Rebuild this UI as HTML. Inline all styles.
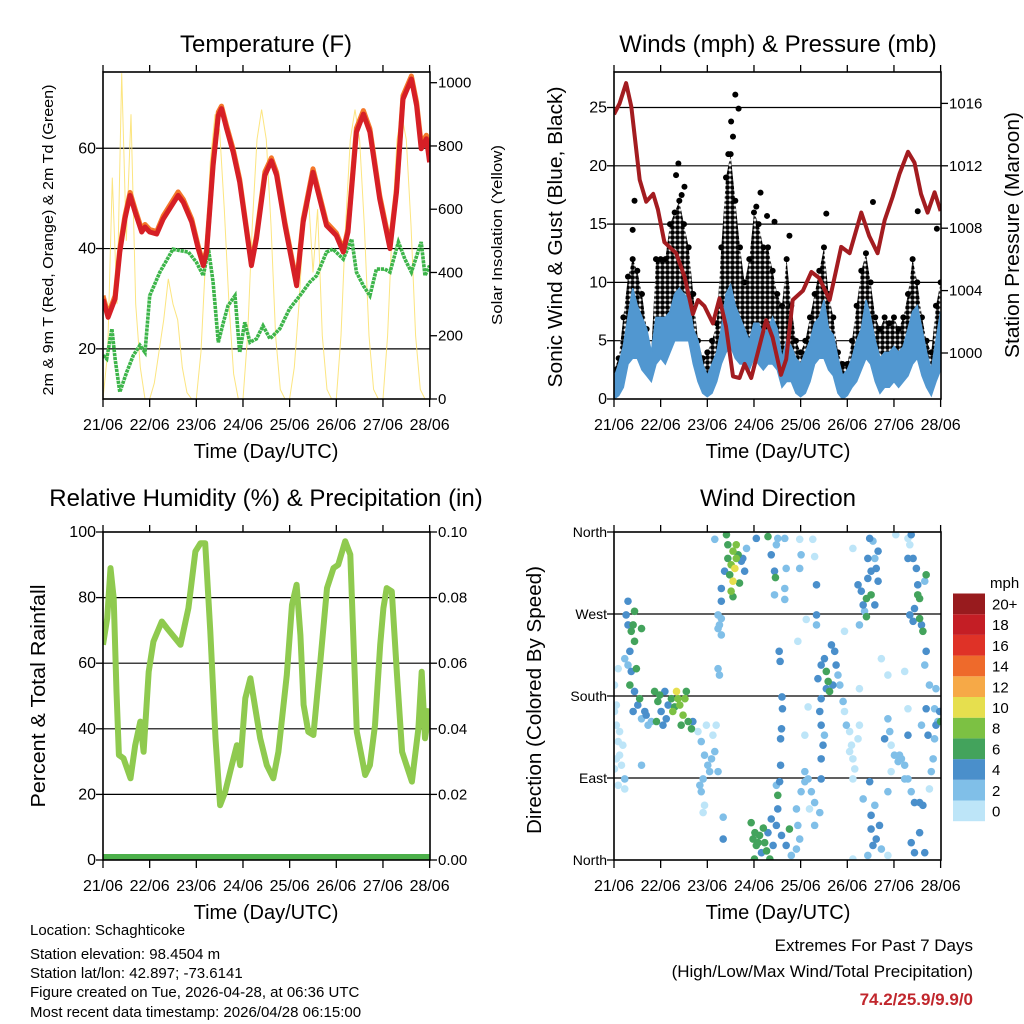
<!DOCTYPE html>
<html><head><meta charset="utf-8"><style>
body{margin:0;background:#fff}
svg{display:block;font-family:"Liberation Sans",sans-serif}
</style></head><body>
<svg id="c" width="1024" height="1024" viewBox="0 0 1024 1024" xmlns="http://www.w3.org/2000/svg">
<defs>
<pattern id="dotpat" width="5" height="5" patternUnits="userSpaceOnUse"><rect width="5" height="5" fill="#fff"/><circle cx="2.5" cy="2.5" r="2.4" fill="#000"/></pattern>
</defs>
<rect width="1024" height="1024" fill="#fff"/>
<g font-size="24" text-anchor="middle">
<text x="266" y="52">Temperature (F)</text>
<text x="778" y="52">Winds (mph) &amp; Pressure (mb)</text>
<text x="266" y="506">Relative Humidity (%) &amp; Precipitation (in)</text>
<text x="778" y="506">Wind Direction</text>
</g>
<g font-size="20" text-anchor="middle">
<text x="266" y="458">Time (Day/UTC)</text>
<text x="778" y="458">Time (Day/UTC)</text>
<text x="266" y="919">Time (Day/UTC)</text>
<text x="778" y="919">Time (Day/UTC)</text>
</g>
<text transform="translate(53,240) rotate(-90)" font-size="15" text-anchor="middle" textLength="311" lengthAdjust="spacingAndGlyphs">2m &amp; 9m T (Red, Orange) &amp; 2m Td (Green)</text>
<text transform="translate(502,235) rotate(-90)" font-size="15" text-anchor="middle" textLength="180" lengthAdjust="spacingAndGlyphs">Solar Insolation (Yellow)</text>
<text transform="translate(562,237) rotate(-90)" font-size="20" text-anchor="middle" textLength="301" lengthAdjust="spacingAndGlyphs">Sonic Wind &amp; Gust (Blue, Black)</text>
<text transform="translate(1019,235) rotate(-90)" font-size="20" text-anchor="middle" textLength="246" lengthAdjust="spacingAndGlyphs">Station Pressure (Maroon)</text>
<text transform="translate(45,696) rotate(-90)" font-size="20" text-anchor="middle" textLength="223" lengthAdjust="spacingAndGlyphs">Percent &amp; Total Rainfall</text>
<text transform="translate(541,700) rotate(-90)" font-size="20" text-anchor="middle" textLength="268" lengthAdjust="spacingAndGlyphs">Direction (Colored By Speed)</text>
<g font-size="15">
<text x="30" y="935">Location: Schaghticoke</text>
<text x="30" y="959">Station elevation: 98.4504 m</text>
<text x="30" y="978">Station lat/lon: 42.897; -73.6141</text>
<text x="30" y="997">Figure created on Tue, 2026-04-28, at 06:36 UTC</text>
<text x="30" y="1017">Most recent data timestamp: 2026/04/28 06:15:00</text>
</g>
<g font-size="17" text-anchor="end">
<text x="973" y="951">Extremes For Past 7 Days</text>
<text x="973" y="977">(High/Low/Max Wind/Total Precipitation)</text>
<text x="973" y="1005" font-weight="bold" fill="#c1272d">74.2/25.9/9.9/0</text>
</g>
<g id="marks"></g>
</svg>
<script>
// ---------- data ----------
const dayLabels=["21/06","22/06","23/06","24/06","25/06","26/06","27/06","28/06"];
const tempTicks=[20,40,60];
const solarTicks=[0,200,400,600,800,1000];
const windTicks=[0,5,10,15,20,25];
const presTicks=[1000,1004,1008,1012,1016];
const rhTicks=[0,20,40,60,80,100];
const rainTicks=["0.00","0.02","0.04","0.06","0.08","0.10"];
const dirTicks=["North","East","South","West","North"];
const speedBins=["0","2","4","6","8","10","12","14","16","18","20+"];
const speedColors=["#bde5f8","#80bfe8","#4a8fcb","#43a35c","#7cc143","#e6df4e","#f6a947","#ee6a2b","#df3227","#c41e25","#981b1e"];

const tempDays=[0,0.11,0.26,0.36,0.47,0.58,0.69,0.83,0.9,1.0,1.15,1.29,1.61,1.72,1.9,2.04,2.15,2.22,2.36,2.47,2.54,2.65,2.79,2.93,3.08,3.18,3.29,3.47,3.61,3.72,3.9,4.15,4.29,4.5,4.61,4.79,5.0,5.15,5.25,5.43,5.58,5.72,5.93,6.15,6.29,6.43,6.61,6.72,6.82,6.93,7.0];
const temp2m=[29.9,26.3,30,39.3,45.9,50.6,47.2,43.3,44.3,43.3,42.9,45.9,50.6,49.2,45.3,40,36.6,39.3,56.5,66.5,67.9,63.9,59.2,53.2,43.3,36.6,42,54.6,57.5,54.6,44.6,32.6,45.3,55.2,51.2,44.6,42.6,39.3,43.3,63.2,66.8,63.2,49.9,40,51.2,69.8,73.8,68.5,59.9,61.9,57.2];
const temp9m=[30.6,26.8,30.6,40,46.5,51.2,47.8,43.8,44.8,43.8,43.4,46.5,51.3,49.8,45.9,40.5,37,39.8,57.3,67.2,68.4,64.5,59.8,53.8,43.8,37,42.6,55.3,58.1,55.2,45.2,33.2,45.9,55.9,51.8,45.2,43.1,39.8,43.9,64,67.5,63.9,50.6,40.6,51.9,70.5,74.4,69.2,60.9,62.6,58.6];
const dpDays=[0,0.08,0.19,0.26,0.36,0.51,0.65,0.79,0.9,1.0,1.22,1.5,1.65,1.83,2.0,2.15,2.26,2.36,2.47,2.58,2.68,2.83,2.93,3.04,3.15,3.29,3.43,3.58,3.79,4.0,4.22,4.43,4.58,4.79,4.93,5.15,5.33,5.43,5.58,5.72,5.86,6.04,6.15,6.33,6.47,6.61,6.82,6.9,7.0];
const dewpoint=[18.7,18,24,18,11.4,15.4,18.7,20.7,19.3,30.6,35.3,39.9,39.6,39.3,37.3,34.6,39.9,33.3,21.3,25.3,28.6,30.6,19.3,25.3,21.3,22,24.6,22,24,28,30.6,33.3,34.6,39.3,39.9,37.9,41.9,35.3,32.6,30.6,35.9,35.9,35.3,41.3,37.9,35.3,41.3,34.6,36.6];
const solar=[0,150,700,300,1030,500,900,300,100,0, 0,50,150,250,380,300,250,100,20,0, 0,150,450,750,900,850,600,300,80,0, 0,200,550,820,915,820,550,200,30,0, 0,100,300,550,650,400,600,200,30,0, 0,200,550,820,915,820,550,200,30,0, 0,200,550,820,900,820,550,200,30,0, 0];

const presDays=[0,0.12,0.26,0.37,0.55,0.69,0.84,0.94,1.08,1.33,1.51,1.69,1.8,1.94,2.12,2.26,2.4,2.55,2.69,2.8,2.94,3.08,3.26,3.4,3.58,3.69,3.83,4.05,4.23,4.4,4.62,4.76,4.87,5.05,5.3,5.47,5.65,5.8,5.97,6.12,6.3,6.44,6.58,6.72,6.87,7.0];
const pressure=[1015.3,1016,1017.3,1015.8,1011.1,1009.7,1010.2,1009.2,1007.1,1006.4,1004.9,1002.5,1003.4,1003,1001.9,1003.5,1001.7,998.5,998.4,999.3,998.4,1000,1002.1,1001,998.6,999.6,1003.4,1004,1005.2,1004.8,1003.4,1005.3,1006.8,1006.4,1009,1007.5,1006.4,1008.5,1010,1011.5,1012.9,1012.2,1010.2,1009,1010.3,1009.1];
const sonicHi=[1.8,3,4.5,7,9.5,8,7,6,4,7, 7,7,7.5,9,9.5,9,8.5,6,5,3, 2,3,4,6,9,9.8,8,7,6,5, 6.5,6.5,5.5,6,7,6,3.5,5,4.5,3.5, 3,4,5,6.5,7,8.5,6,5.5,3.5,2, 2.5,3.5,5,6,8.5,7,5,3.5,4,4, 4.5,4,4.5,6,7.5,8,6,4,2.5,5, 7.5];
const sonicLo=[0,0.3,1,3,3.5,3.5,2.5,2,1.5,3, 3.5,3,4,5,5,5,5,3,1.5,0.5, 0.2,0.5,1.5,3,4,4.5,3.5,3,3,2.5, 3.5,3,2.5,3,3,2.5,1,1.5,1.5,0.5, 0.2,0.5,1.5,3,3.5,3.5,2.5,2,0.5,0, 0.3,1,1.5,2.5,3.5,3,1.5,0.5,1,1, 1.5,1,1.5,2,3,3.5,2,1,0.3,1.5, 2.5];
const gustHi=[2.5,3.5,7,10.5,12,11,9,6,4,12, 12,12,15,16,17,15,13,9,5,3.5, 4,5,6.5,13,19,21,17,13,10,12, 16,15,13,13,11,9,8,12,8,5, 4,5,7,9,11,13,9,7,4,3, 3,5,8,11,12.5,10,7,6,7,6.5, 7,6,7,9,12,10,7,5,4,8, 10];
const gustPeakDays=[2.6,2.67,2.51,1.38,0.44,3.14,4.55,5.55,6.51,6.92,1.33,1.51,3.76,3.44,3.28,2.55,2.45,1.45,0.4,3.05];
const gustPeakMph=[26.1,24.9,23.8,20.2,17,17.7,15.9,16.9,16.1,14.6,19.2,18.2,14,15.2,15.7,22.5,21,17.5,14.5,16.5];

const rhDays=[0,0.09,0.16,0.23,0.29,0.34,0.44,0.59,0.69,0.8,0.87,0.98,1.08,1.26,1.37,1.66,1.83,1.98,2.09,2.19,2.3,2.41,2.51,2.62,2.76,2.87,2.94,3.05,3.16,3.37,3.51,3.65,3.76,3.94,4.05,4.15,4.23,4.3,4.4,4.51,4.65,4.8,4.94,5.04,5.19,5.3,5.44,5.62,5.72,5.83,5.94,6.01,6.08,6.19,6.3,6.41,6.62,6.76,6.83,6.9,7.0];
const humidity=[65.6,73.7,89,79.8,51.3,32,31,24.9,35,42.2,33,57.4,66.6,72.7,70.7,65.6,76.8,94.1,96.6,96.6,69.7,37.1,16.7,20.8,28.9,35,28.9,49.3,55.4,37.1,28.9,24.9,33,56.4,77.8,83.9,68.6,47.3,39.1,38.1,59.4,82.9,89,90,97.2,93.1,39.1,25.9,28.9,41.1,65.6,76.8,82.9,81.9,56.4,33,23.9,40.1,57.4,37.1,46.2];
const rainDays=[0,7];
const rainTotal=[0,0];

// [day, direction deg, speed mph]
const windDirObs=[
[0.01,163,0.5],[0.05,148,1],[0.09,130,0.5],[0.12,115,1],[0.16,104,1.5],[0.05,111,0.5],[0.01,100,1],[0.12,141,0.5],[0.19,126,1],[0.09,82,1],[0.23,78,1.5],[0.01,192,1],[0.05,170,0.5],[0.23,89,2],
[0.3,284,4],[0.26,269,4],[0.3,258,5],[0.37,251,6],[0.44,273,7],[0.41,258,6],[0.44,240,6],[0.59,254,7],[0.34,229,4],[0.3,214,3],[0.37,207,5],[0.48,210,6],[0.34,192,6],[0.44,185,4],[0.51,170,5],[0.41,163,4],[0.55,177,6],[0.59,155,3],[0.66,163,4],[0.73,148,3],[0.69,159,4],[0.8,152,3],[0.23,221,2],[0.09,210,1],[0.59,104,3],
[0.87,185,6],[0.94,174,7],[1.01,163,5],[0.91,152,6],[1.05,148,4],[1.16,170,5],[1.23,177,6],[1.34,185,10],[1.41,170,8],[1.48,159,8],[1.55,185,7],[1.59,152,6],[1.66,144,6],[1.26,163,8],[1.12,155,4],[0.98,181,7],[1.52,177,8],[1.44,148,6],[1.37,177,9],[1.3,168,7],[1.09,185,4],[1.69,152,4],
[1.8,141,1],[1.87,130,2],[1.94,115,2],[2.01,104,2],[2.09,111,2],[2.16,119,2],[1.91,89,2],[1.87,75,3],[1.94,60,1],[1.91,52,1],[1.84,82,2],[2.05,97,3],[2.12,137,1],[2.23,97,2],[1.98,148,1],[2.19,148,1],
[2.23,269,3],[2.26,258,3],[2.3,247,2],[2.23,254,2],[2.3,265,3],[2.23,210,2],[2.26,203,2],[2.3,284,4],[2.34,47,3],[2.34,23,4],
[2.41,357,6],[2.44,346,6],[2.55,339,8],[2.62,331,8],[2.51,324,9],[2.59,320,10],[2.66,335,7],[2.73,328,5],[2.8,317,4],[2.48,313,7],[2.55,306,10],[2.37,317,4],[2.51,295,8],[2.69,304,6],[2.76,331,4],[2.62,346,9],[2.44,331,7],[2.84,342,3],[2.3,298,4],[2.55,289,7],[2.16,352,2],
[3.05,353,4],[3.3,355,6],[3.37,335,4],[3.44,317,4],[3.48,346,2],[3.51,353,3],[3.66,353,2],[3.69,320,2],[3.66,298,2],[3.44,291,3],[3.66,286,2],[3.46,310,7],[3.98,352,1],[4.01,335,2],[3.98,320,2],[4.26,352,1],
[2.94,41,6],[2.98,23,7],[3.05,16,6],[3.12,27,6],[3.16,8,5],[3.23,19,6],[3.3,30,4],[3.37,45,5],[3.41,16,4],[3.48,38,4],[3.51,56,4],[3.59,27,4],[3.69,16,4],[3.76,34,6],[3.8,5,3],[3.91,12,2],[3.98,23,2],[3.01,1,6],[3.34,1,6],[3.51,71,6],[3.48,82,3],[3.09,19,7],[3.02,30,6],[3.2,35,7],[3.27,10,6],
[3.91,56,2],[4.01,75,2],[4.09,86,2],[4.16,89,2],[4.23,75,2],[4.3,63,3],[4.19,56,1],[4.3,38,2],[3.94,38,3],[4.09,97,2],[4.41,52,3],[4.44,89,4],[4.09,137,1],[4.16,168,0],
[3.54,229,4],[3.56,218,4],[3.6,179,4],[3.61,166,4],[3.59,144,4],[3.57,133,4],[3.57,104,4],[3.55,86,4],
[4.34,302,4],[4.34,269,4],[4.34,258,3],[4.12,264,1],[3.94,240,0],[4.3,333,1],
[4.37,199,4],[4.44,214,4],[4.51,221,5],[4.55,207,7],[4.59,196,6],[4.66,236,4],[4.73,229,4],[4.76,214,4],[4.8,203,3],[4.62,185,6],[4.44,177,4],[4.41,163,4],[4.44,148,4],[4.51,137,3],[4.69,192,4],[4.84,192,3],[4.91,174,2],[4.55,188,5],[4.48,126,4],[4.44,111,4],
[4.94,163,1],[4.98,148,2],[5.05,141,1],[5.09,126,1],[5.12,111,1],[5.16,100,1],[5.12,89,1],[5.26,148,0],[5.23,133,1],[5.05,119,1],[4.94,251,1],[5.26,188,0],
[5.23,302,4],[5.3,295,4],[5.34,280,4],[5.37,273,3],[5.41,287,6],[5.44,309,4],[5.51,317,4],[5.59,331,3],[5.66,339,4],[5.48,353,4],[5.55,350,3],[5.62,320,4],[5.44,331,4],[5.41,267,6],[5.26,258,2],[5.12,342,1],[6.04,357,0],[5.51,291,6],[5.59,280,4],[5.66,306,4],[5.73,221,1],[5.87,203,0],
[5.34,67,3],[5.48,86,4],[5.51,34,4],[5.55,16,4],[5.62,23,4],[5.69,38,4],[5.44,5,3],[5.73,12,3],[5.59,60,2],[5.51,49,4],[5.87,5,1],[5.87,75,2],[5.12,1,1],
[5.87,155,3],[5.91,141,2],[5.94,126,1],[6.01,115,2],[6.09,108,2],[6.16,111,2],[6.23,104,2],[6.12,115,2],[5.94,97,1],[6.23,89,2],[6.3,137,4],[5.8,133,4],[6.23,207,0],[6.3,166,0],
[6.3,353,1],[6.37,357,4],[6.34,346,1],[6.41,331,4],[6.48,320,4],[6.51,302,4],[6.55,287,6],[6.44,276,4],[6.34,269,4],[6.41,262,4],[6.59,258,4],[6.62,251,6],[6.51,291,7],[6.66,306,2],[6.3,331,4],[6.69,313,6],[6.55,265,6],
[6.3,89,2],[6.37,75,3],[6.44,63,4],[6.55,63,4],[6.62,60,4],[6.37,19,4],[6.44,8,4],[6.55,30,4],[6.66,8,4],[6.69,166,4],[6.73,137,4],[6.66,214,3],[6.69,229,4],[6.76,192,3],[6.59,148,2],[6.76,78,1],
[6.87,166,3],[6.9,148,4],[6.94,152,3],[6.98,163,4],[6.87,133,3],[6.84,111,2],[6.8,97,2],[6.9,188,2],[7.0,152,7]
];

// ---------- helpers ----------
const NS="http://www.w3.org/2000/svg";
const root=document.getElementById('marks');
function mk(tag,attrs,parent){const e=document.createElementNS(NS,tag);for(const k in attrs)e.setAttribute(k,attrs[k]);(parent||root).appendChild(e);return e;}
const DAYPX=46.66;
const P1={x0:103,x1:430,y0:72,y1:399},P2={x0:614,x1:941,y0:72,y1:399},P3={x0:103,x1:430,y0:532,y1:860},P4={x0:614,x1:941,y0:532,y1:860};
const xDay=(P,d)=>P.x0+d*DAYPX;
const yTemp=v=>399-(v-10)*5.015;
const ySolar=v=>399-v*0.3163;
const yWind=v=>399-v*11.66;
const yPres=v=>353-(v-1000)*15.6;
const yRH=v=>860-v*3.28;
const yRain=v=>860-v*3280;
const yDir=v=>860-v*(328/360);
function pts(P,days,vals,yf){return days.map((d,i)=>xDay(P,d).toFixed(1)+","+yf(vals[i]).toFixed(1)).join(" ");}
function clip(P,id){const cp=mk('clipPath',{id:id});mk('rect',{x:P.x0,y:P.y0,width:P.x1-P.x0,height:P.y1-P.y0},cp);}
clip(P1,'c1');clip(P2,'c2');clip(P3,'c3');clip(P4,'c4');

function frame(P,name,yticks,yf,ylabels,rticks,rf,rlabels,lx,rx,lfs){
  const g=mk('g',{});
  
  
  yticks.forEach((v,i)=>{
    const y=yf(v);
    if(y>P.y0+1&&y<P.y1-1){const gl=mk('line',{x1:P.x0,x2:P.x1,y1:y,y2:y,stroke:'#000','stroke-width':1.2},g);
      
      }
    mk('line',{x1:P.x0-7,x2:P.x0,y1:y,y2:y,stroke:'#000','stroke-width':1.3},g);
    const t=mk('text',{x:lx,y:y+5,'font-size':lfs||16,'text-anchor':'end'},g);
    t.textContent=ylabels[i];
    
    
  });
  rticks.forEach((v,i)=>{
    const y=rf(v);
    mk('line',{x1:P.x1,x2:P.x1+7,y1:y,y2:y,stroke:'#000','stroke-width':1.3},g);
    const t=mk('text',{x:rx,y:y+5,'font-size':15,'text-anchor':'start'},g);
    t.textContent=rlabels[i];
    
    
  });
  dayLabels.forEach((lab,i)=>{
    const x=xDay(P,i);
    mk('line',{x1:x,x2:x,y1:P.y1,y2:P.y1+8,stroke:'#000','stroke-width':1.3},g);
    mk('line',{x1:x,x2:x,y1:P.y0-7,y2:P.y0,stroke:'#000','stroke-width':1.3},g);
    const t=mk('text',{x:x,y:P.y1+31,'font-size':16,'text-anchor':'middle'},g);
    t.textContent=lab;
    
    
  });
  return g;
}
function box(P,name){const r=mk('rect',{x:P.x0,y:P.y0,width:P.x1-P.x0,height:P.y1-P.y0,fill:'none',stroke:'#000','stroke-width':1.6});
  
  }

// ---------- Panel 1: temperature ----------
frame(P1,'temp',tempTicks,yTemp,tempTicks.map(String),solarTicks,ySolar,solarTicks.map(String),96,438);
const g1=mk('g',{'clip-path':'url(#c1)'});
const solarDays=solar.map((v,i)=>i*0.1);
const sl=mk('polyline',{points:pts(P1,solarDays,solar,ySolar),fill:'none',stroke:'#fbe06a','stroke-width':1,'stroke-opacity':0.85},g1);


const dl=mk('polyline',{points:pts(P1,dpDays,dewpoint,yTemp),fill:'none',stroke:'#3db54a','stroke-width':3.6,'stroke-dasharray':'3.2 0.8'},g1);


const ol=mk('polyline',{points:pts(P1,tempDays,temp9m,yTemp),fill:'none',stroke:'#f4782a','stroke-width':5,'stroke-linejoin':'round'},g1);


const rl=mk('polyline',{points:pts(P1,tempDays,temp2m,yTemp),fill:'none',stroke:'#d61f26','stroke-width':5,'stroke-linejoin':'round'},g1);


box(P1,'temp');

// ---------- Panel 2: winds ----------
frame(P2,'winds',windTicks,yWind,windTicks.map(String),presTicks,yPres,presTicks.map(String),607,949);
const g2=mk('g',{'clip-path':'url(#c2)'});
const wd=solar.map((v,i)=>i*0.1);
const gustPoly=wd.map((d,i)=>xDay(P2,d).toFixed(1)+","+yWind(gustHi[i]).toFixed(1)).concat(wd.slice().reverse().map((d,j)=>{const i=wd.length-1-j;return xDay(P2,d).toFixed(1)+","+yWind(sonicLo[i]).toFixed(1);})).join(" ");
const ga=mk('polygon',{points:gustPoly,fill:'url(#dotpat)'},g2);


gustHi.forEach((v,i)=>{
  const c=mk('circle',{cx:xDay(P2,wd[i]),cy:yWind(v),r:3,fill:'#000'},g2);
  
  
});
gustPeakDays.forEach((d,i)=>{
  const c=mk('circle',{cx:xDay(P2,d),cy:yWind(gustPeakMph[i]),r:3,fill:'#000'},g2);
  
  
});
const sonicPoly=wd.map((d,i)=>xDay(P2,d).toFixed(1)+","+yWind(sonicHi[i]).toFixed(1)).concat(wd.slice().reverse().map((d,j)=>{const i=wd.length-1-j;return xDay(P2,d).toFixed(1)+","+yWind(sonicLo[i]).toFixed(1);})).join(" ");
const sa=mk('polygon',{points:sonicPoly,fill:'#5197d0',stroke:'#5197d0','stroke-width':1.5},g2);


const pl=mk('polyline',{points:pts(P2,presDays,pressure,yPres),fill:'none',stroke:'#a31c20','stroke-width':4,'stroke-linejoin':'round'},g2);


box(P2,'winds');

// ---------- Panel 3: humidity ----------
frame(P3,'humidity',rhTicks,yRH,rhTicks.map(String),rainTicks.map(Number),yRain,rainTicks,96,438);
const g3=mk('g',{'clip-path':'url(#c3)'});
const hl=mk('polyline',{points:pts(P3,rhDays,humidity,yRH),fill:'none',stroke:'#8fca4f','stroke-width':6,'stroke-linejoin':'round'},g3);


const pr=mk('polyline',{points:pts(P3,rainDays,rainTotal,yRain),fill:'none',stroke:'#4cb04a','stroke-width':12},g3);


box(P3,'humidity');

// ---------- Panel 4: wind direction ----------
frame(P4,'direction',[0,90,180,270,360],yDir,dirTicks,[],yDir,[],607,949,14);
const g4=mk('g',{'clip-path':'url(#c4)'});
const bin=s=>Math.max(0,Math.min(10,Math.floor(s/2)));
const order=windDirObs.slice().sort((a,b)=>a[2]-b[2]);
order.forEach(o=>{
  const c=mk('circle',{cx:xDay(P4,o[0]),cy:yDir(o[1]),r:3.8,fill:speedColors[bin(o[2])]},g4);
  
  
});
box(P4,'direction');

// colorbar
const cb=mk('g',{});


const mt=mk('text',{x:990,y:588,'font-size':15},cb);
mt.textContent='mph';


speedBins.forEach((lab,i)=>{
  const y=800.5-i*20.7;
  const r=mk('rect',{x:953,y:y,width:32,height:20.7,fill:speedColors[i]},cb);
  
  
  const t=mk('text',{x:992,y:y+16,'font-size':15},cb);
  t.textContent=lab;
  
  
});
</script>
</body></html>
